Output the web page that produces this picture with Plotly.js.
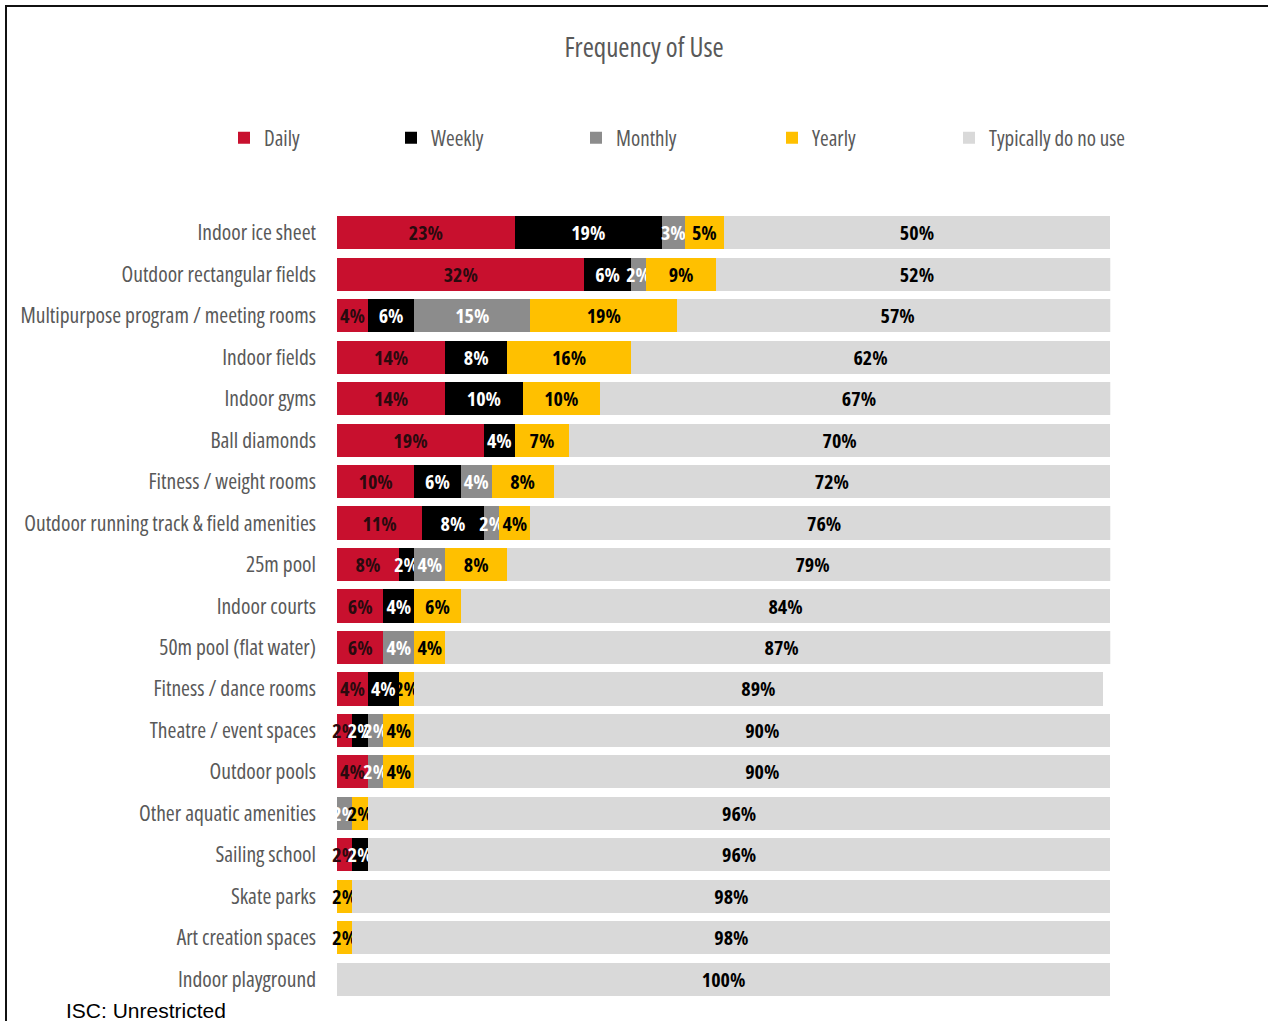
<!DOCTYPE html>
<html>
<head>
<meta charset="utf-8">
<script src="https://cdn.plot.ly/plotly-3.0.1.min.js"></script>
<style>
  html, body { margin: 0; padding: 0; background: #fff; }
  #wrap { position: relative; width: 1268px; height: 1021px; overflow: hidden; }
  #chart { position: absolute; left: 0; top: 0; width: 1268px; height: 1021px; }
  #frame { position: absolute; left: 5px; top: 5px; width: 1270px; height: 1030px;
           border-left: 2px solid #111; border-top: 2px solid #111; pointer-events: none; }
  svg text { font-stretch: condensed !important; }
</style>
</head>
<body>
<div id="wrap">
  <div id="chart"></div>
  <div id="frame"></div>
</div>
<script>
const categories = [
  "Indoor ice sheet",
  "Outdoor rectangular fields",
  "Multipurpose program / meeting rooms",
  "Indoor fields",
  "Indoor gyms",
  "Ball diamonds",
  "Fitness / weight rooms",
  "Outdoor running track & field amenities",
  "25m pool",
  "Indoor courts",
  "50m pool (flat water)",
  "Fitness / dance rooms",
  "Theatre / event spaces",
  "Outdoor pools",
  "Other aquatic amenities",
  "Sailing school",
  "Skate parks",
  "Art creation spaces",
  "Indoor playground"
];
const daily   = [23, 32, 4, 14, 14, 19, 10, 11, 8, 6, 6, 4, 2, 4, 0, 2, 0, 0, 0];
const weekly  = [19, 6, 6, 8, 10, 4, 6, 8, 2, 4, 0, 4, 2, 0, 0, 2, 0, 0, 0];
const monthly = [3, 2, 15, 0, 0, 0, 4, 2, 4, 0, 4, 0, 2, 2, 2, 0, 0, 0, 0];
const yearly  = [5, 9, 19, 16, 10, 7, 8, 4, 8, 6, 4, 2, 4, 4, 2, 0, 2, 2, 0];
const notUsed = [50, 52, 57, 62, 67, 70, 72, 76, 79, 84, 87, 89, 90, 90, 96, 96, 98, 98, 100];

const seriesNames = ["Daily", "Weekly", "Monthly", "Yearly", "Typically do no use"];
const seriesData = [daily, weekly, monthly, yearly, notUsed];
const seriesColors = ["#C8102E", "#000000", "#8C8C8C", "#FFC000", "#D9D9D9"];
const textColors = ["#2a0a0e", "#ffffff", "#ffffff", "#000000", "#000000"];
// left edge (px) where each legend label's text starts in the reference
const legendTextStart = [264, 431, 616, 812, 989];

const FONT = "'Open Sans', 'Noto Sans', sans-serif";
const W = 1268, H = 1021;
const FULL = 100;        // the 100% end of every bar
const XMAX = 101;        // rounded shares of some rows add up to 101%
const PLOT_L = 337, PLOT_100 = 1110;
const plotW = (PLOT_100 - PLOT_L) * XMAX / FULL;

const traces = seriesNames.map((name, i) => ({
  type: "bar",
  orientation: "h",
  name: name,
  legend: i === 0 ? "legend" : "legend" + (i + 1),
  y: categories,
  x: seriesData[i],
  text: seriesData[i].map(v => v > 0 ? v + "%" : ""),
  textposition: "inside",
  insidetextanchor: "middle",
  constraintext: "none",
  textangle: 0,
  cliponaxis: false,
  textfont: { family: FONT, size: 20, color: textColors[i], weight: 700 },
  marker: { color: seriesColors[i], line: { width: 0 } },
  hoverinfo: "x+y+name"
}));

const layout = {
  width: W,
  height: H,
  paper_bgcolor: "#ffffff",
  plot_bgcolor: "#ffffff",
  barmode: "stack",
  bargap: 0.2,
  margin: { l: PLOT_L, r: W - PLOT_L - plotW, t: 212, b: 21 },
  title: {
    text: "Frequency of Use",
    font: { family: FONT, size: 27, color: "#595959", weight: 400 },
    x: 644 / W, xref: "container", xanchor: "center",
    y: 1 - 48 / H, yref: "container", yanchor: "middle"
  },
  showlegend: true,
  xaxis: {
    range: [0, XMAX],
    showgrid: false,
    zeroline: false,
    showticklabels: false,
    showline: false,
    ticks: ""
  },
  yaxis: {
    autorange: "reversed",
    type: "category",
    showgrid: false,
    zeroline: false,
    showline: false,
    ticks: "",
    ticklabelstandoff: 20,
    tickfont: { family: FONT, size: 21.5, color: "#595959" }
  },
  // bars are cut at 100% as in the original chart
  shapes: [{
    type: "rect", layer: "above",
    xref: "x", yref: "paper",
    x0: FULL, x1: XMAX + 1, y0: -0.01, y1: 1.01,
    fillcolor: "#ffffff", line: { width: 0 }
  }],
  annotations: [{
    text: "ISC: Unrestricted",
    xref: "paper", yref: "paper",
    x: (64 - PLOT_L) / plotW, xanchor: "left",
    y: (1000 - 1011) / 788, yanchor: "middle",
    showarrow: false,
    font: { family: "'Liberation Sans', Arial, sans-serif", size: 21, color: "#000000" }
  }]
};

legendTextStart.forEach((px, i) => {
  const key = i === 0 ? "legend" : "legend" + (i + 1);
  layout[key] = {
    orientation: "h",
    xref: "container", yref: "container",
    x: (px - 40) / W, xanchor: "left",
    y: 1 - 138 / H, yanchor: "middle",
    itemwidth: 30,
    font: { family: FONT, size: 21, color: "#595959" },
    bgcolor: "rgba(0,0,0,0)",
    borderwidth: 0
  };
});

Plotly.newPlot("chart", traces, layout, { displayModeBar: false, staticPlot: true });
</script>
</body>
</html>
